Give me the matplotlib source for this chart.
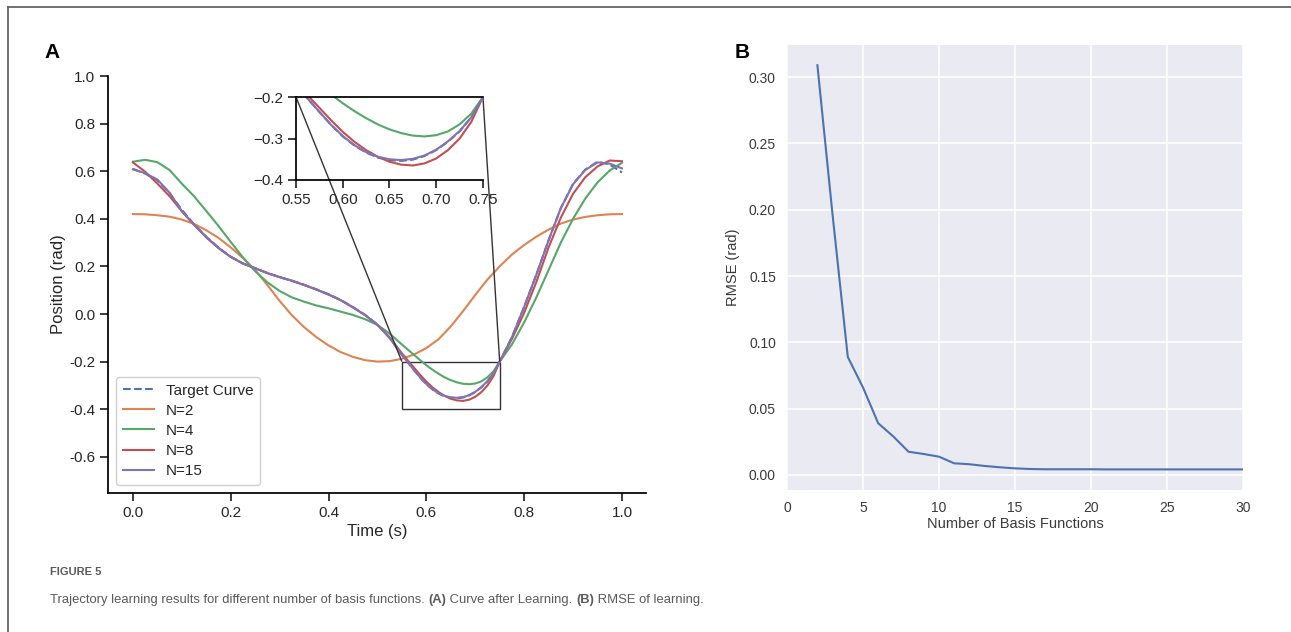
import matplotlib

matplotlib.use("Agg")

import matplotlib.pyplot as plt
import numpy as np
from matplotlib.lines import Line2D
from mpl_toolkits.axes_grid1.inset_locator import mark_inset

# --- data --------------------------------------------------------------------

# whole trajectory, read every 0.025 s
time_s = np.linspace(0, 1, 41)

target_curve = [0.610, 0.590, 0.562, 0.508, 0.438, 0.377, 0.325, 0.279, 0.241,
                0.213, 0.193, 0.172, 0.155, 0.140, 0.123, 0.104, 0.083, 0.059,
                0.029, -0.004, -0.044, -0.100, -0.170, -0.232, -0.296, -0.335,
                -0.352, -0.350, -0.329, -0.284, -0.200, -0.097, 0.030, 0.166,
                0.310, 0.445, 0.547, 0.607, 0.640, 0.628, 0.595]
n2 = [0.420, 0.419, 0.415, 0.409, 0.397, 0.379, 0.352, 0.320, 0.280, 0.235,
      0.185, 0.122, 0.055, -0.005, -0.055, -0.097, -0.132, -0.160, -0.180,
      -0.194, -0.200, -0.198, -0.188, -0.170, -0.143, -0.106, -0.052, 0.012,
      0.080, 0.145, 0.200, 0.250, 0.290, 0.325, 0.355, 0.380, 0.397, 0.408,
      0.415, 0.419, 0.420]
n4 = [0.640, 0.648, 0.638, 0.605, 0.548, 0.495, 0.433, 0.370, 0.303, 0.238,
      0.180, 0.133, 0.097, 0.070, 0.052, 0.036, 0.024, 0.010, -0.004, -0.022,
      -0.046, -0.082, -0.128, -0.178, -0.222, -0.256, -0.281, -0.294, -0.290,
      -0.265, -0.200, -0.128, -0.035, 0.070, 0.185, 0.300, 0.400, 0.485,
      0.553, 0.603, 0.635]
n8 = [0.637, 0.598, 0.548, 0.495, 0.432, 0.375, 0.322, 0.277, 0.240, 0.212,
      0.192, 0.172, 0.155, 0.140, 0.122, 0.103, 0.082, 0.058, 0.028, -0.005,
      -0.045, -0.098, -0.165, -0.226, -0.284, -0.328, -0.356, -0.365, -0.348,
      -0.300, -0.200, -0.105, 0.005, 0.135, 0.280, 0.405, 0.505, 0.575, 0.620,
      0.645, 0.642]
n15 = [0.608, 0.592, 0.565, 0.510, 0.432, 0.376, 0.324, 0.278, 0.240, 0.212,
       0.192, 0.172, 0.155, 0.140, 0.122, 0.103, 0.082, 0.058, 0.028, -0.005,
       -0.045, -0.101, -0.172, -0.236, -0.294, -0.333, -0.350, -0.349, -0.327,
       -0.282, -0.200, -0.098, 0.030, 0.165, 0.310, 0.445, 0.545, 0.605, 0.637,
       0.632, 0.612]

# zoomed window 0.55-0.75 s, every 0.0125 s
zoom_time_s = np.linspace(0.55, 0.75, 17)
zoom_target = [-0.172, -0.204, -0.236, -0.267, -0.295, -0.317, -0.334, -0.346,
               -0.352, -0.354, -0.351, -0.342, -0.328, -0.308, -0.283, -0.249,
               -0.200]
zoom_n4 = [-0.128, -0.150, -0.172, -0.194, -0.215, -0.234, -0.251, -0.266,
           -0.278, -0.287, -0.293, -0.295, -0.292, -0.283, -0.266, -0.240,
           -0.200]
zoom_n8 = [-0.165, -0.196, -0.226, -0.256, -0.284, -0.308, -0.328, -0.344,
           -0.356, -0.363, -0.365, -0.360, -0.348, -0.328, -0.300, -0.260,
           -0.200]
zoom_n15 = [-0.172, -0.204, -0.236, -0.267, -0.294, -0.316, -0.333, -0.344,
            -0.350, -0.352, -0.349, -0.341, -0.327, -0.307, -0.282, -0.249,
            -0.200]

n_basis = list(range(2, 31))
rmse = [0.309, 0.196, 0.089, 0.066, 0.039, 0.029, 0.0175, 0.0158, 0.0138,
        0.0088, 0.0081, 0.0068, 0.0058, 0.0050, 0.0045, 0.0043, 0.0043,
        0.0043, 0.0043, 0.0042, 0.0042, 0.0042, 0.0042, 0.0042, 0.0042,
        0.0042, 0.0042, 0.0042, 0.0042]

# --- style -------------------------------------------------------------------

BLUE = "#4C72B0"
ORANGE = "#DD8452"
GREEN = "#55A868"
RED = "#C44E52"
PURPLE = "#8172B3"
INK = "#262626"
CAPTION = "#5a5a5a"

plt.rcParams.update({
    "font.family": ["Liberation Sans", "DejaVu Sans"],
    "font.size": 11,
    "text.color": INK,
    "axes.labelcolor": INK,
    "xtick.color": INK,
    "ytick.color": INK,
})


def with_zoom(ys, zoom_ys):
    """Splice the finer inset readings into the coarse trajectory."""
    if zoom_ys is None:
        return time_s, np.asarray(ys)
    ys = np.asarray(ys)
    lo = time_s < 0.55 - 1e-9
    hi = time_s > 0.75 + 1e-9
    t = np.concatenate([time_s[lo], zoom_time_s, time_s[hi]])
    y = np.concatenate([ys[lo], zoom_ys, ys[hi]])
    return t, y


series = [("Target Curve", target_curve, zoom_target, BLUE, "--"),
          ("N=2", n2, None, ORANGE, "-"),
          ("N=4", n4, zoom_n4, GREEN, "-"),
          ("N=8", n8, zoom_n8, RED, "-"),
          ("N=15", n15, zoom_n15, PURPLE, "-")]

fig = plt.figure(figsize=(12.91, 6.32), dpi=100)

# page frame (top and left rules)
fig.add_artist(Line2D([8 / 1291, 1], [1 - 7 / 632] * 2, color="#666666",
                      lw=1.3, transform=fig.transFigure))
fig.add_artist(Line2D([8 / 1291] * 2, [0, 1 - 7 / 632], color="#666666",
                      lw=1.3, transform=fig.transFigure))

# --- panel A -----------------------------------------------------------------

ax = fig.add_axes([0.0840, 0.2207, 0.4167, 0.6590])
for label, ys, zys, c, ls in series:
    t, y = with_zoom(ys, zys)
    ax.plot(t, y, ls, color=c, lw=1.5, label=label)
ax.set_xlim(-0.05, 1.05)
ax.set_ylim(-0.75, 1.0)
ax.set_xticks(np.arange(0, 1.01, 0.2))
ax.set_yticks(np.arange(-0.6, 1.01, 0.2))
ax.xaxis.set_major_formatter(lambda v, p: f"{v:.1f}")
ax.yaxis.set_major_formatter(lambda v, p: f"{v + 0:.1f}")
for s in ("top", "right"):
    ax.spines[s].set_visible(False)
for s in ("left", "bottom"):
    ax.spines[s].set_linewidth(1.25)
    ax.spines[s].set_color("black")
ax.tick_params(direction="out", length=6, width=1.25, labelsize=11)
ax.set_xlabel("Time (s)", fontsize=12, labelpad=3)
ax.set_ylabel("Position (rad)", fontsize=12, labelpad=2)
ax.legend(loc="lower left", fontsize=11, handlelength=2.0, borderpad=0.45,
          labelspacing=0.4, fancybox=True, edgecolor="#d0d0d0",
          framealpha=1)

axins = fig.add_axes([0.2293, 0.7152, 0.1448, 0.1313])
axins.set_facecolor("none")
for label, ys, zys, c, ls in series:
    t, y = with_zoom(ys, zys)
    axins.plot(t, y, ls, color=c, lw=1.5)
axins.set_xlim(0.55, 0.75)
axins.set_ylim(-0.4, -0.2)
axins.set_xticks([0.55, 0.60, 0.65, 0.70, 0.75])
axins.set_yticks([-0.4, -0.3, -0.2])
axins.xaxis.set_major_formatter("{x:.2f}")
axins.yaxis.set_major_formatter("{x:.1f}")
axins.spines["right"].set_visible(False)
for s in ("left", "bottom", "top"):
    axins.spines[s].set_linewidth(1.25)
    axins.spines[s].set_color("black")
axins.tick_params(direction="out", length=6, width=1.25, labelsize=11)
mark_inset(ax, axins, loc1=2, loc2=1, fc="none", ec="#333333", lw=1.0)

# --- panel B -----------------------------------------------------------------

axb = fig.add_axes([0.6096, 0.2253, 0.3532, 0.7035])
axb.set_facecolor("#EAEAF2")
axb.plot(n_basis, rmse, color=BLUE, lw=1.5)
axb.set_xlim(0, 30)
axb.set_xticks(range(0, 31, 5))
axb.set_yticks(np.arange(0, 0.31, 0.05))
axb.yaxis.set_major_formatter("{x:.2f}")
axb.grid(True, color="white", lw=1.1)
axb.set_axisbelow(True)
for s in axb.spines.values():
    s.set_visible(False)
axb.tick_params(length=0, labelsize=10, pad=8, colors="#3a3a3a")
axb.set_xlabel("Number of Basis Functions", fontsize=10.5, labelpad=2,
               color="#3a3a3a")
axb.set_ylabel("RMSE (rad)", fontsize=10.5, labelpad=6, color="#3a3a3a")

# --- panel letters and caption -----------------------------------------------

fig.text(52 / 1291, 1 - 52 / 632, "A", fontsize=15, fontweight="bold",
         ha="center", va="center", color="black")
fig.text(742 / 1291, 1 - 52 / 632, "B", fontsize=15, fontweight="bold",
         ha="center", va="center", color="black")

fig.text(50 / 1291, 1 - 572 / 632, "FIGURE 5", fontsize=8,
         fontweight="bold", color=CAPTION, va="center")

renderer = fig.canvas.get_renderer()
pieces = [("Trajectory learning results for different number of basis "
           "functions. ", "normal"),
          ("(A)", "bold"), (" Curve after Learning. ", "normal"),
          ("(B)", "bold"), (" RMSE of learning.", "normal")]
x = 50 / 1291
for txt, weight in pieces:
    t = fig.text(x, 1 - 600 / 632, txt, fontsize=9.4, fontweight=weight,
                 color=CAPTION, va="center")
    x = fig.transFigure.inverted().transform(
        (t.get_window_extent(renderer).x1, 0))[0]

fig.savefig("out.png", dpi=100)
